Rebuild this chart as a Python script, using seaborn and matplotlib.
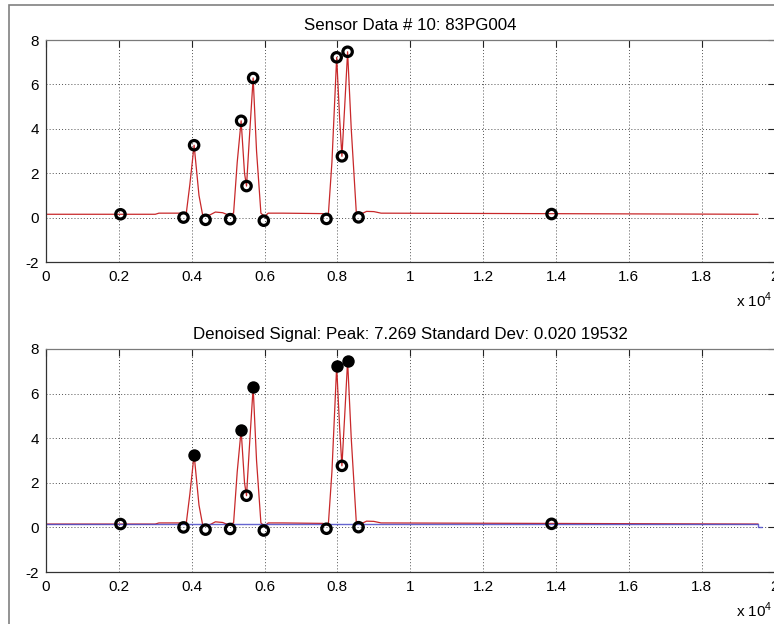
import matplotlib
matplotlib.use("Agg")
import matplotlib.pyplot as plt
import seaborn as sns
from matplotlib.patches import Rectangle

# ---- data (x in samples, y in signal units) ----
signal_x = [0, 3000, 3100, 3700, 3850, 3950, 4066, 4200, 4300, 4500, 4650, 4850,
            5000, 5150, 5250, 5357, 5450, 5505, 5580, 5687, 5780, 5900, 6000, 6100,
            6500, 7600, 7750, 7850, 7980, 8060, 8124, 8200, 8280, 8380, 8520, 8700,
            8800, 9000, 9200, 19550]
signal_y = [0.15, 0.15, 0.20, 0.20, 0.18, 1.50, 3.26, 1.00, 0.12, 0.12, 0.25, 0.22,
            0.12, 0.20, 2.50, 4.36, 2.00, 1.42, 3.50, 6.29, 3.00, 0.20, 0.05, 0.20,
            0.20, 0.18, 0.10, 2.50, 7.22, 4.50, 2.76, 5.00, 7.47, 4.00, 0.20, 0.20,
            0.28, 0.27, 0.20, 0.15]

denoised_x = [0, 19540, 19540, 19650]
denoised_y = [0.17, 0.17, 0.00, 0.00]

max_x = [4066, 5357, 5687, 7980, 8280]
max_y = [3.26, 4.36, 6.29, 7.22, 7.47]

min_x = [2044, 3775, 4380, 5055, 5505, 5980, 7700, 8124, 8580, 13880]
min_y = [0.15, 0.00, -0.10, -0.07, 1.42, -0.14, -0.06, 2.76, 0.01, 0.16]

xtick_vals = [0, 2000, 4000, 6000, 8000, 10000, 12000, 14000, 16000, 18000, 20000]
xtick_labels = ["0", "0.2", "0.4", "0.6", "0.8", "1", "1.2", "1.4", "1.6", "1.8", "2"]
ytick_vals = [-2, 0, 2, 4, 6, 8]
ytick_labels = ["-2", "0", "2", "4", "6", "8"]

title_top = "Sensor Data # 10: 83PG004"
title_bottom = "Denoised Signal: Peak: 7.269 Standard Dev: 0.020 19532"

# ---- style ----
sns.set_theme(style="white")
plt.rcParams["font.family"] = ["Liberation Sans", "DejaVu Sans"]
plt.rcParams["mathtext.fontset"] = "custom"
plt.rcParams["mathtext.rm"] = "Liberation Sans"
plt.rcParams["text.color"] = "black"

W, H = 774, 624
fig = plt.figure(figsize=(W / 100, H / 100), dpi=100)
fig.patch.set_facecolor("white")

def axes_rect(left, top, right, bottom):
    return [left / W, 1 - bottom / H, (right - left) / W, (bottom - top) / H]

ax1 = fig.add_axes(axes_rect(46, 40, 774.5, 262))
ax2 = fig.add_axes(axes_rect(46, 349, 774.5, 572))

RED = "#c8282a"
BLUE = "#4a4ac8"
MS = 46

def style_axes(ax, title):
    ax.set_xlim(0, 20000)
    ax.set_ylim(-2, 8)
    ax.set_xticks(xtick_vals)
    ax.set_xticklabels(xtick_labels)
    ax.set_yticks(ytick_vals)
    ax.set_yticklabels(ytick_labels)
    ax.set_xlabel("")
    ax.set_ylabel("")
    ax.set_axisbelow(True)
    ax.grid(True, linestyle=(0, (1, 2.2)), color="#505050", lw=0.7)
    ax.tick_params(direction="in", top=True, right=True, length=5, width=0.8,
                   labelsize=11, colors="#222222", labelcolor="black", pad=5)
    ax.tick_params(axis="x", pad=6)
    for side, sp in ax.spines.items():
        sp.set_visible(True)
        sp.set_linewidth(0.9)
        sp.set_color("#333333" if side in ("left", "bottom") else "#7a7a7a")
    ax.set_title(title, fontsize=12.2, pad=7, color="black")
    ax.text(0.997, -0.172, "x 10$^{4}$", transform=ax.transAxes, ha="right",
            va="center", fontsize=11)

# top panel
sns.lineplot(x=signal_x, y=signal_y, ax=ax1, color=RED, lw=0.9, sort=False,
             estimator=None)
sns.scatterplot(x=max_x + min_x, y=max_y + min_y, ax=ax1, marker="o", s=MS,
                facecolor="none", edgecolor="black", linewidth=2.3, zorder=5)
style_axes(ax1, title_top)

# bottom panel
sns.lineplot(x=signal_x, y=signal_y, ax=ax2, color=RED, lw=0.9, sort=False,
             estimator=None)
sns.lineplot(x=denoised_x, y=denoised_y, ax=ax2, color=BLUE, lw=1.0, sort=False,
             estimator=None, alpha=0.85)
sns.scatterplot(x=min_x, y=min_y, ax=ax2, marker="o", s=MS,
                facecolor="none", edgecolor="black", linewidth=2.3, zorder=5)
sns.scatterplot(x=max_x, y=max_y, ax=ax2, marker="o", s=MS + 14,
                facecolor="black", edgecolor="black", linewidth=1.2, zorder=6)
style_axes(ax2, title_bottom)

# figure window frame
fig.add_artist(Rectangle((9 / W, -0.1), 1.2, 1 - 5 / H + 0.1,
                         transform=fig.transFigure, fill=False,
                         edgecolor="#808080", lw=1.2))

fig.savefig("out.png", dpi=100, facecolor="white")
